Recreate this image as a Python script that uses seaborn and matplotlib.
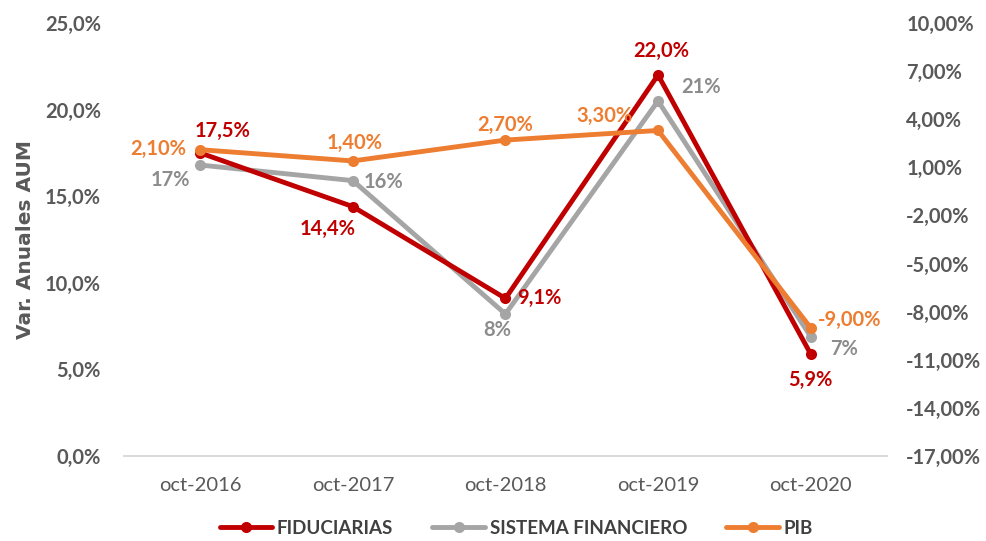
import matplotlib
matplotlib.use("Agg")
import matplotlib.pyplot as plt
import seaborn as sns
import pandas as pd
import numpy as np
from matplotlib.ticker import FixedLocator, FuncFormatter

categories = ["oct-2016", "oct-2017", "oct-2018", "oct-2019", "oct-2020"]
fiduciarias = [17.5, 14.4, 9.1, 22.0, 5.9]
sistema = [16.8, 15.9, 8.2, 20.5, 6.9]
sistema_labels = ["17%", "16%", "8%", "21%", "7%"]
pib = [2.10, 1.40, 2.70, 3.30, -9.00]
left_ticks = [0, 5, 10, 15, 20, 25]
right_ticks = [-17, -14, -11, -8, -5, -2, 1, 4, 7, 10]

RED = "#C00000"
GRAY = "#A5A5A5"
ORANGE = "#ED7D31"
TXT = "#595959"

sns.set_theme(style="white")
plt.rcParams["font.family"] = ["Lato", "DejaVu Sans"]

x = np.arange(len(categories))
df = pd.DataFrame({"x": x, "FIDUCIARIAS": fiduciarias, "SISTEMA FINANCIERO": sistema, "PIB": pib})

fig = plt.figure(figsize=(9.87, 5.41), dpi=100)
ax = fig.add_axes([0.1256, 0.157, 0.773, 0.8005])
ax2 = ax.twinx()

LW = 3.5
MS = 8
sns.lineplot(data=df, x="x", y="SISTEMA FINANCIERO", ax=ax, color=GRAY, lw=LW,
             marker="o", markersize=MS, markeredgewidth=0, label="SISTEMA FINANCIERO", legend=False, zorder=2)
sns.lineplot(data=df, x="x", y="FIDUCIARIAS", ax=ax, color=RED, lw=LW,
             marker="o", markersize=MS, markeredgewidth=0, label="FIDUCIARIAS", legend=False, zorder=3)
sns.lineplot(data=df, x="x", y="PIB", ax=ax2, color=ORANGE, lw=LW,
             marker="o", markersize=MS, markeredgewidth=0, label="PIB", legend=False, zorder=3)

ax.set_xlim(-0.5, 4.5)
ax.set_ylim(0, 25)
ax2.set_ylim(-17, 10)

ax.yaxis.set_major_locator(FixedLocator(left_ticks))
ax.yaxis.set_major_formatter(FuncFormatter(lambda v, p: f"{v:.1f}%".replace(".", ",")))
ax2.yaxis.set_major_locator(FixedLocator(right_ticks))
ax2.yaxis.set_major_formatter(FuncFormatter(lambda v, p: f"{v:.2f}%".replace(".", ",")))

TFS = 14.5
ax.set_xticks(x)
ax.set_xticklabels(categories, fontsize=TFS, color=TXT)
ax.set_xticks(np.arange(-0.5, 5, 1), minor=True)
ax.tick_params(axis="x", which="major", length=0, pad=15)
ax.tick_params(axis="x", which="minor", length=7, color="#D9D9D9", width=1.2, direction="out")
ax.tick_params(axis="y", length=0, labelsize=TFS, labelcolor=TXT, pad=16.5)
ax2.tick_params(axis="y", length=0, labelsize=TFS, labelcolor=TXT, pad=14)
for lab in ax.get_yticklabels() + ax2.get_yticklabels():
    lab.set_fontweight("bold")

for a in (ax, ax2):
    for s in ["left", "right", "top"]:
        a.spines[s].set_visible(False)
    a.spines["bottom"].set_color("#D9D9D9")
    a.spines["bottom"].set_linewidth(1.2)
    a.grid(False)

ax.set_xlabel("")
ax2.set_ylabel("")
ax.set_ylabel("Var. Anuales AUM", fontsize=14.5, fontweight="bold", color=TXT,
              family="DejaVu Sans")
ax.yaxis.set_label_coords(-0.117, 0.5)

fs = 14.5
# FIDUCIARIAS labels
fid_off = [(22, 22), (-25, -22), (34, 0), (3, 24), (0, -26)]
for i, (v, (dx, dy)) in enumerate(zip(fiduciarias, fid_off)):
    ax.annotate(f"{v:.1f}%".replace(".", ","), (x[i], v), xytext=(dx, dy), textcoords="offset pixels",
                ha="center", va="center", color=RED, fontsize=fs, fontweight="bold")
# SISTEMA labels
sis_off = [(-30, -15), (31, -1), (-8, -16), (43, 14), (33, -12)]
for i, (lab, (dx, dy)) in enumerate(zip(sistema_labels, sis_off)):
    ax.annotate(lab, (x[i], sistema[i]), xytext=(dx, dy), textcoords="offset pixels",
                ha="center", va="center", color="#8C8C8C", fontsize=fs, fontweight="bold")
# PIB labels
pib_off = [(-42, 1), (2, 18), (0, 15), (-54, 14), (39, 8)]
for i, (v, (dx, dy)) in enumerate(zip(pib, pib_off)):
    ax2.annotate(f"{v:.2f}%".replace(".", ","), (x[i], v), xytext=(dx, dy), textcoords="offset pixels",
                 ha="center", va="center", color=ORANGE, fontsize=fs, fontweight="bold")

h1, l1 = ax.get_legend_handles_labels()
h2, l2 = ax2.get_legend_handles_labels()
order = [1, 0]
handles = [h1[i] for i in order] + h2
labels = [l1[i] for i in order] + l2
leg = fig.legend(handles, labels, loc="center", bbox_to_anchor=(0.523, 0.024), ncol=3, frameon=False,
                 fontsize=13.5, handlelength=2.8, columnspacing=2.1, handletextpad=0.25)
for t in leg.get_texts():
    t.set_fontweight("bold")
    t.set_color("#404040")

fig.savefig("out.png", dpi=100)
